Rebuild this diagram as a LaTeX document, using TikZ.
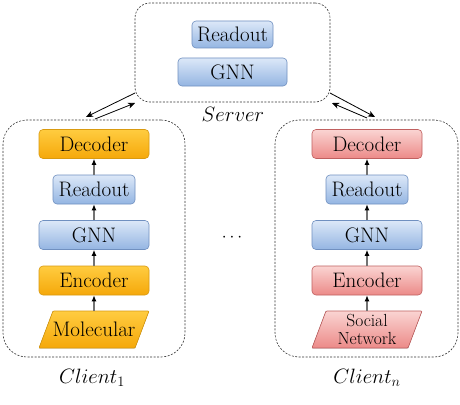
\documentclass[tikz,border=0pt]{standalone}
\usetikzlibrary{arrows.meta}
\definecolor{orT}{HTML}{FFCC40}
\definecolor{orB}{HTML}{F5A80A}
\definecolor{orD}{HTML}{D99A10}
\definecolor{blT}{HTML}{DCE8F8}
\definecolor{blB}{HTML}{94B5E2}
\definecolor{blD}{HTML}{7090C0}
\definecolor{rdT}{HTML}{FAD4D2}
\definecolor{rdB}{HTML}{EC8A88}
\definecolor{rdD}{HTML}{C06060}
\begin{document}
\begin{tikzpicture}[x=1pt,y=-1pt,
  box/.style={rounded corners=4pt, minimum height=29pt, inner sep=0pt, font=\fontsize{21}{23}\selectfont, line width=0.6pt},
  orbox/.style={box, draw=orD, top color=orT, bottom color=orB},
  blbox/.style={box, draw=blD, top color=blT, bottom color=blB},
  rdbox/.style={box, draw=rdD, top color=rdT, bottom color=rdB},
  group/.style={draw=black!80, dash pattern=on 2pt off 1.5pt, line width=0.6pt, inner sep=0pt},
  up/.style={draw=black!55, line width=1.1pt, -{Latex[black,length=6pt,width=5pt]}},
  link/.style={draw=black, line width=0.8pt, -{Stealth[length=7pt,width=6pt,inset=2pt]}},
  lbl/.style={font=\fontsize{21}{24}\selectfont}
]
\useasboundingbox (0,0) rectangle (460,404);
\fill[white] (0,0) rectangle (460,404);

% server
\node[group, rounded corners=15pt, minimum width=195pt, minimum height=99pt] (srv) at (232.5,52.5) {};
\node[blbox, minimum width=81pt, minimum height=27pt] (sro) at (232.5,34.5) {Readout};
\node[blbox, minimum width=109pt, minimum height=28pt] (sgnn) at (232.5,72) {GNN};
\node[lbl] (srvlbl) at (233,114) {$Server$};

% client 1
\node[group, rounded corners=24pt, minimum width=182pt, minimum height=237pt] (c1) at (94,238.5) {};
\fill[top color=orT, bottom color=orB] (53,311) -- (149,311) -- (135,348) -- (39,348) -- cycle;
\draw[draw=orD, line width=0.6pt, rounded corners=1pt] (53,311) -- (149,311) -- (135,348) -- (39,348) -- cycle;
\node[font=\fontsize{21}{23}\selectfont, minimum height=37pt, minimum width=96pt, inner sep=0pt] (mol) at (94,329.5) {Molecular};
\node[orbox, minimum width=110pt] (enc1) at (94,280.5) {Encoder};
\node[blbox, minimum width=110pt] (gnn1) at (94,235) {GNN};
\node[blbox, minimum width=82pt] (ro1) at (94,189.5) {Readout};
\node[orbox, minimum width=110pt] (dec1) at (94,144) {Decoder};
\draw[up] (mol) -- (enc1);
\draw[up] (enc1) -- (gnn1);
\draw[up] (gnn1) -- (ro1);
\draw[up] (ro1) -- (dec1);
\node[lbl] (c1lbl) at (92,378) {$Client_1$};

% client n
\node[group, rounded corners=24pt, minimum width=183pt, minimum height=237pt] (cn) at (366.5,238.5) {};
\fill[top color=rdT, bottom color=rdB] (326,311) -- (422,311) -- (408,348) -- (312,348) -- cycle;
\draw[draw=rdD, line width=0.6pt, rounded corners=1pt] (326,311) -- (422,311) -- (408,348) -- (312,348) -- cycle;
\node[font=\fontsize{17.5}{17.5}\selectfont, align=center, minimum height=37pt, minimum width=96pt, inner sep=0pt] (soc) at (367,329.5) {Social\\Network};
\node[rdbox, minimum width=110pt] (encn) at (367,280.5) {Encoder};
\node[blbox, minimum width=110pt] (gnnn) at (367,235) {GNN};
\node[blbox, minimum width=82pt] (ron) at (367,189.5) {Readout};
\node[rdbox, minimum width=110pt] (decn) at (367,144) {Decoder};
\draw[up] (soc) -- (encn);
\draw[up] (encn) -- (gnnn);
\draw[up] (gnnn) -- (ron);
\draw[up] (ron) -- (decn);
\node[lbl] (cnlbl) at (367,378) {$Client_n$};

% dots
\node[font=\fontsize{18}{20}\selectfont] (dots) at (232,238) {$\cdots$};

% links
\coordinate (l1a) at (135,93);
\coordinate (l1b) at (86,117);
\coordinate (l2a) at (95,119);
\coordinate (l2b) at (135,103);
\coordinate (r1a) at (330,93);
\coordinate (r1b) at (375,117);
\coordinate (r2a) at (367,118);
\coordinate (r2b) at (332,103);
\draw[link] (l1a) -- (l1b);
\draw[link] (l2a) -- (l2b);
\draw[link] (r1a) -- (r1b);
\draw[link] (r2a) -- (r2b);
\end{tikzpicture}
\end{document}
